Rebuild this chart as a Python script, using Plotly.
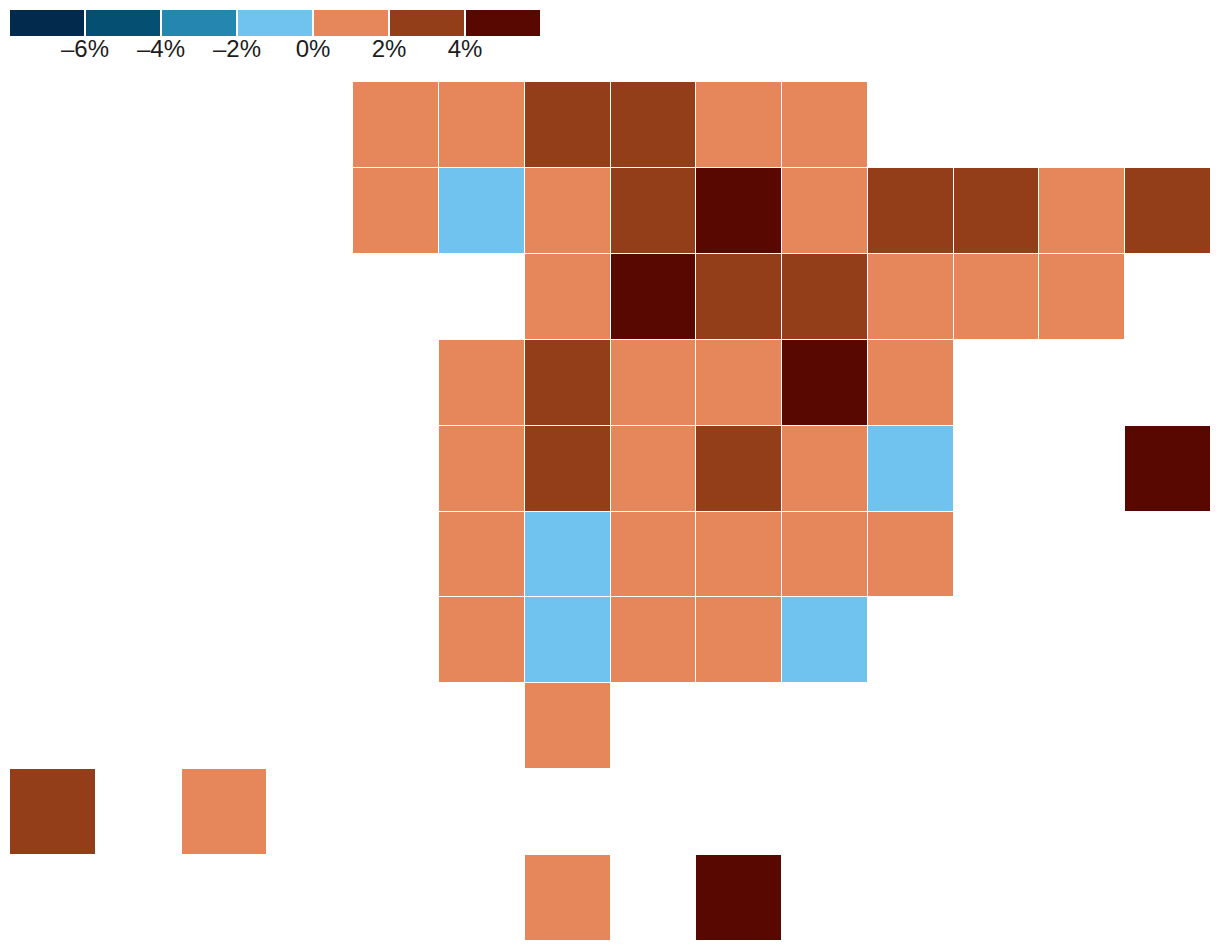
import plotly.graph_objects as go

W, H = 1204, 936

# Data: each cell holds the midpoint of the colour bin it falls in (percent)
columns = list(range(14))
rows = list(range(10))
N = None
row0 = [N, N, N, N, 1, 1, 3, 3, 1, 1, N, N, N, N]
row1 = [N, N, N, N, 1, -1, 1, 3, 5, 1, 3, 3, 1, 3]
row2 = [N, N, N, N, N, N, 1, 5, 3, 3, 1, 1, 1, N]
row3 = [N, N, N, N, N, 1, 3, 1, 1, 5, 1, N, N, N]
row4 = [N, N, N, N, N, 1, 3, 1, 3, 1, -1, N, N, 5]
row5 = [N, N, N, N, N, 1, -1, 1, 1, 1, 1, N, N, N]
row6 = [N, N, N, N, N, 1, -1, 1, 1, -1, N, N, N, N]
row7 = [N, N, N, N, N, N, 1, N, N, N, N, N, N, N]
row8 = [3, N, 1, N, N, N, N, N, N, N, N, N, N, N]
row9 = [N, N, N, N, N, N, 1, N, 5, N, N, N, N, N]

legend_bins = [-7, -5, -3, -1, 1, 3, 5]
legend_ticks = [-6, -4, -2, 0, 2, 4]
legend_labels = ["–6%", "–4%", "–2%", "0%", "2%", "4%"]
bin_colors = ["#012a4c", "#044f72", "#2587b0", "#6fc3ee", "#e6865b", "#933e19", "#590800"]

ZMIN, ZMAX = -8, 6
scale = []
for i, c in enumerate(bin_colors):
    scale.append([i / len(bin_colors), c])
    scale.append([(i + 1) / len(bin_colors), c])

fig = go.Figure()
fig.add_trace(go.Heatmap(
    z=[row0, row1, row2, row3, row4, row5, row6, row7, row8, row9],
    x=columns, y=rows, zmin=ZMIN, zmax=ZMAX, colorscale=scale, showscale=False,
    xgap=1, ygap=1, hoverongaps=False, xaxis="x", yaxis="y",
))
fig.add_trace(go.Heatmap(
    z=[legend_bins], x=legend_bins, y=[0], zmin=ZMIN, zmax=ZMAX, colorscale=scale,
    showscale=False, xgap=2, xaxis="x2", yaxis="y2",
))
fig.update_layout(
    width=W, height=H, margin=dict(l=0, r=0, t=0, b=0),
    paper_bgcolor="white", plot_bgcolor="white", showlegend=False,
    font=dict(family="Liberation Sans, Arial, sans-serif", size=24, color="#1c1c1c"),
    xaxis=dict(domain=[2 / W, 1203 / W], range=[-0.5, 13.5], visible=False),
    yaxis=dict(domain=[1 - 933 / H, 1 - 74 / H], range=[9.5, -0.5], visible=False),
    xaxis2=dict(domain=[1 / W, 533 / W], range=[ZMIN, ZMAX], anchor="y2",
                tickvals=legend_ticks, ticktext=legend_labels, ticks="", showgrid=False,
                zeroline=False, showline=False, ticklabelstandoff=-4),
    yaxis2=dict(domain=[1 - 28 / H, 1 - 2 / H], range=[-0.5, 0.5], visible=False, anchor="x2"),
)
fig.write_html("out.html")
